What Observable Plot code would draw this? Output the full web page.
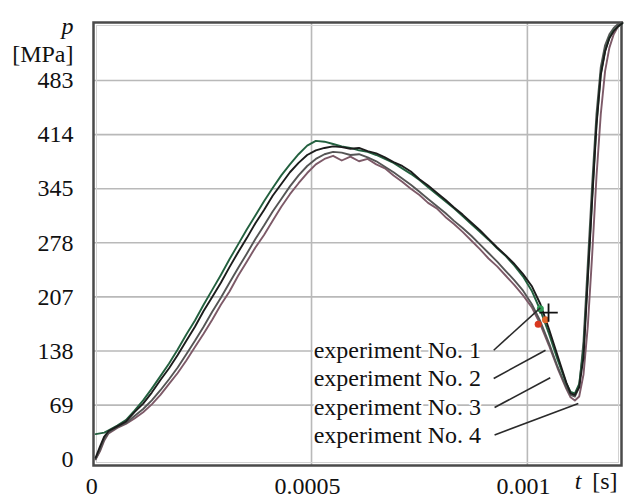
<!DOCTYPE html>
<html>
<head>
<meta charset="utf-8">
<script src="https://cdn.jsdelivr.net/npm/d3@7"></script>
<script src="https://cdn.jsdelivr.net/npm/@observablehq/plot@0.6"></script>
<style>
  html, body { margin: 0; padding: 0; background: #fff; }
  #chart { width: 625px; height: 498px; }
</style>
</head>
<body>
<div id="chart"></div>
<script>
// ---- data (t in seconds, p in MPa) ----
const t = [0, 0.00001, 0.00002, 0.00003, 0.00005, 0.00007, 0.00009, 0.00011, 0.00013, 0.00015,
  0.00017, 0.00019, 0.00021, 0.00023, 0.00025, 0.00027, 0.00029, 0.00031, 0.00033, 0.00035,
  0.00037, 0.00039, 0.00041, 0.00043, 0.00045, 0.00047, 0.00049, 0.00051, 0.00053, 0.00055,
  0.00057, 0.00059, 0.00061, 0.00063, 0.00065, 0.00067, 0.00069, 0.00071, 0.00073, 0.00075,
  0.00077, 0.00079, 0.00081, 0.00083, 0.00085, 0.00087, 0.00089, 0.00091, 0.00093, 0.00095,
  0.00097, 0.00099, 0.00101, 0.00103, 0.00105, 0.00107, 0.00109, 0.00110, 0.00111, 0.00112,
  0.00113, 0.00114, 0.00115, 0.00116, 0.00117, 0.00118, 0.00119, 0.00120, 0.00121, 0.00122];

const exp1 = [2, 16, 29, 36, 42, 48, 60, 71, 85, 101,
  116, 133, 151, 169, 189, 207, 225, 245, 264, 282,
  301, 318, 336, 351, 366, 378, 388, 394, 397, 399,
  398, 396, 397, 393, 390, 385, 379, 374, 367, 357,
  349, 340, 331, 321, 312, 302, 292, 281, 270, 260,
  249, 236, 221, 198, 166, 132, 98, 84, 82, 92,
  130, 230, 330, 425, 490, 520, 537, 546, 552, 556];

const exp2 = [32, 33, 34, 37, 43, 50, 62, 75, 90, 106,
  122, 140, 159, 177, 197, 216, 235, 255, 274, 293,
  311, 329, 346, 362, 376, 389, 400, 406, 405, 402,
  399, 397, 394, 392, 388, 383, 378, 371, 364, 356,
  347, 338, 329, 320, 310, 300, 290, 280, 269, 259,
  247, 233, 215, 190, 160, 127, 97, 86, 84, 96,
  140, 235, 335, 428, 492, 521, 538, 547, 552, 556];

const exp3 = [0, 12, 26, 34, 41, 46, 55, 64, 75, 88,
  102, 117, 134, 151, 169, 188, 206, 225, 244, 262,
  281, 298, 316, 332, 348, 362, 374, 383, 389, 392,
  391, 388, 389, 385, 380, 373, 366, 358, 350, 341,
  332, 323, 314, 304, 295, 285, 274, 263, 252, 240,
  228, 215, 198, 176, 148, 118, 92, 82, 80, 92,
  150, 250, 350, 440, 500, 528, 542, 550, 555, 557];

const exp4 = [0, 10, 24, 33, 40, 45, 52, 60, 70, 82,
  96, 110, 126, 143, 160, 178, 197, 214, 234, 252,
  270, 286, 304, 322, 338, 352, 365, 376, 383, 387,
  381, 386, 380, 383, 376, 371, 362, 354, 345, 337,
  327, 320, 309, 300, 290, 279, 268, 256, 246, 234,
  222, 209, 194, 172, 145, 116, 90, 79, 75, 80,
  108, 170, 260, 360, 440, 495, 525, 542, 552, 557];

const yTicks = [0, 69, 138, 207, 276, 345, 414, 483];
const yTickLabels = ["0", "69", "138", "207", "278", "345", "414", "483"];
const xTicks = [0, 0.0005, 0.001];
const xTickLabels = ["0", "0.0005", "0.001"];

const labelNames = ["experiment No. 1", "experiment No. 2", "experiment No. 3", "experiment No. 4"];
const labelT = [0.000505, 0.000505, 0.000505, 0.000505];
const labelP = [139, 103, 66, 31];
const leaderStartT = [0.000922, 0.000922, 0.000924, 0.000924];
const leaderEndT = [0.00103, 0.001042, 0.001053, 0.001118];
const leaderEndP = [193, 139, 104, 71];

const markT = [0.001025, 0.001042, 0.00103];
const markP = [172, 178, 192];
const markColor = ["#d9381e", "#e0662a", "#2f9a55"];
const crossT = [0.001049];
const crossP = [187];

// ---- build ----
const series = [
  {name: "experiment No. 4", values: exp4, color: "#7d5a68"},
  {name: "experiment No. 3", values: exp3, color: "#555555"},
  {name: "experiment No. 2", values: exp2, color: "#23603f"},
  {name: "experiment No. 1", values: exp1, color: "#1c1c1c"}
];

const labels = labelNames.map((name, i) => ({name, t: labelT[i], p: labelP[i]}));
const leaders = labelNames.map((name, i) => ({t1: leaderStartT[i], p1: labelP[i], t2: leaderEndT[i], p2: leaderEndP[i]}));
const marks = markT.map((tt, i) => ({t: tt, p: markP[i], c: markColor[i]}));
const crosses = crossT.map((tt, i) => ({t: tt, p: crossP[i]}));

const font = "'Liberation Serif', 'Times New Roman', serif";
const FS = 24;

const chart = Plot.plot({
  width: 625,
  height: 498,
  marginLeft: 93,
  marginRight: 4,
  marginTop: 22,
  marginBottom: 33,
  style: {fontFamily: font, fontSize: FS + "px", background: "#fff", color: "#111"},
  x: {domain: [-0.000005, 0.001218]},
  y: {domain: [-8, 557]},
  marks: [
    Plot.gridY(yTicks.slice(1), {stroke: "#b9b9b9", strokeOpacity: 1, strokeWidth: 1.6}),
    Plot.gridX(xTicks.slice(1), {stroke: "#b9b9b9", strokeOpacity: 1, strokeWidth: 1.6}),
    Plot.frame({stroke: "#d2d2d2", strokeWidth: 1, inset: 3}),
    Plot.frame({stroke: "#4a4a4a", strokeWidth: 2.5}),
    Plot.axisY(yTicks, {tickSize: 0, tickPadding: 20, tickFormat: d => yTickLabels[yTicks.indexOf(d)], fontSize: FS, fill: "#111"}),
    Plot.axisX(xTicks, {tickSize: 0, tickPadding: 11, dx: -4, tickFormat: d => xTickLabels[xTicks.indexOf(d)], fontSize: FS, fill: "#111"}),
    ...series.map(s => Plot.line(t.map((tt, i) => ({t: tt, p: s.values[i]})), {x: "t", y: "p", stroke: s.color, strokeWidth: 1.9, strokeLinejoin: "round"})),
    Plot.dot(marks, {x: "t", y: "p", fill: "c", r: 3.5}),
    Plot.dot(crosses, {x: "t", y: "p", symbol: "plus", stroke: "#111", r: 6, strokeWidth: 1.8}),
    Plot.text(labels, {x: "t", y: "p", text: "name", textAnchor: "start", fontSize: FS, fill: "#111", stroke: "#fff", strokeWidth: 4}),
    Plot.link(leaders, {x1: "t1", y1: "p1", x2: "t2", y2: "p2", stroke: "#2a2a2a", strokeWidth: 1.6}),
    Plot.text(["p"], {frameAnchor: "top-left", dx: -20, dy: -6, textAnchor: "end", fontStyle: "italic", fontSize: FS, fill: "#111"}),
    Plot.text(["[MPa]"], {frameAnchor: "top-left", dx: -20, dy: 22, textAnchor: "end", fontSize: FS, fill: "#111"}),
    Plot.text(["[s]"], {frameAnchor: "bottom-right", dx: -4, dy: 23, textAnchor: "end", fontSize: FS, fill: "#111"}),
    Plot.text(["t"], {frameAnchor: "bottom-right", dx: -40, dy: 23, textAnchor: "end", fontStyle: "italic", fontSize: FS, fill: "#111"})
  ]
});

document.getElementById("chart").appendChild(chart);
</script>
</body>
</html>
